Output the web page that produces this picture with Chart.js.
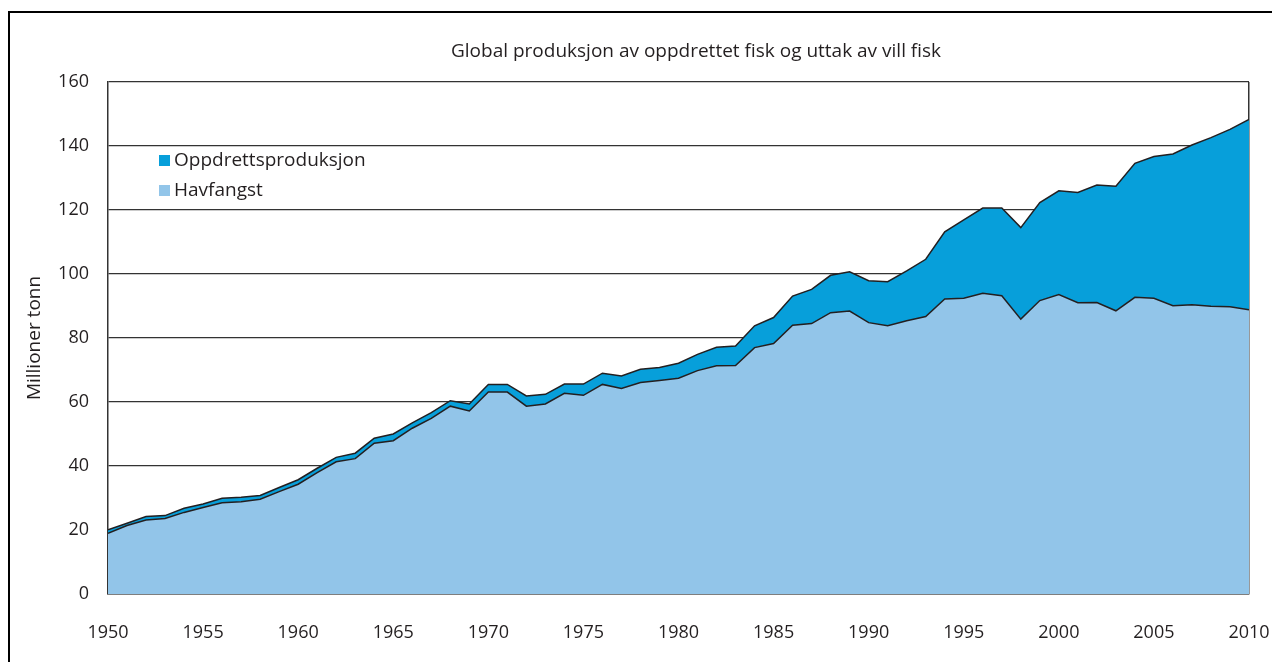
<!DOCTYPE html>
<html>
<head>
<meta charset="utf-8">
<script src="https://cdn.jsdelivr.net/npm/chart.js@4.4.1/dist/chart.umd.min.js"></script>
<style>
  html, body { margin: 0; padding: 0; background: #fff; }
  #wrap { position: relative; width: 1272px; height: 662px; overflow: hidden; }
  #frame { position: absolute; left: 8px; top: 11px; right: -10px; bottom: -10px;
           border-left: 2px solid #000; border-top: 2px solid #000; }
  #chart { position: absolute; left: 0; top: 0; }
  #title { position: absolute; left: 451px; top: 37px; font-family: "Open Sans", sans-serif;
           font-size: 19px; color: #231f20; white-space: nowrap; line-height: 26px; }
  #legend { position: absolute; left: 159px; top: 144px; font-family: "Open Sans", sans-serif;
            font-size: 19px; color: #231f20; line-height: 30px; }
  #legend .sw { display: inline-block; width: 11px; height: 11px; margin-right: 4px; vertical-align: 0px; }
</style>
</head>
<body>
<div id="wrap">
  <div id="frame"></div>
  <canvas id="chart" width="1272" height="662"></canvas>
  <div id="title"></div>
  <div id="legend"></div>
</div>
<script>
const title = "Global produksjon av oppdrettet fisk og uttak av vill fisk";
const yTitle = "Millioner tonn";

const years = [];
for (let y = 1950; y <= 2010; y++) years.push(y);

// villfangst (nederste flate)
const havfangst = [
  19.0, 21.4, 23.1, 23.6, 25.5, 27.0, 28.5, 28.8, 29.6, 32.0,
  34.3, 37.9, 41.3, 42.3, 47.1, 47.9, 51.8, 54.9, 58.7, 57.2,
  63.1, 63.1, 58.7, 59.4, 62.7, 62.1, 65.5, 64.2, 66.1, 66.7,
  67.4, 69.8, 71.3, 71.4, 77.0, 78.3, 84.0, 84.5, 87.9, 88.4,
  84.8, 83.8, 85.4, 86.7, 92.2, 92.4, 94.0, 93.2, 85.9, 91.7,
  93.6, 91.0, 91.1, 88.5, 92.7, 92.4, 90.1, 90.4, 89.9, 89.8,
  88.8
];

// totalt (øverste linje)
const totalt = [
  20.1, 22.1, 24.2, 24.5, 26.8, 28.1, 29.9, 30.2, 30.8, 33.3,
  35.7, 39.3, 42.7, 44.0, 48.7, 50.0, 53.5, 56.7, 60.4, 59.4,
  65.5, 65.5, 61.9, 62.4, 65.6, 65.6, 69.0, 68.1, 70.2, 70.8,
  72.1, 74.9, 77.1, 77.5, 83.8, 86.4, 93.1, 95.2, 99.6, 100.7,
  97.9, 97.6, 101.0, 104.6, 113.2, 116.9, 120.6, 120.6, 114.5, 122.3,
  126.0, 125.5, 127.8, 127.4, 134.6, 136.7, 137.5, 140.3, 142.6, 145.2,
  148.3
];

const oppdrett = totalt.map((t, i) => +(t - havfangst[i]).toFixed(1));

const colHav = "#92c5e9";
const colOpp = "#079fda";
const lineCol = "#231f20";
const font = "'Open Sans', sans-serif";

document.getElementById("title").textContent = title;

// legende
const legendItems = [["Oppdrettsproduksjon", colOpp], ["Havfangst", colHav]];
document.getElementById("legend").innerHTML = legendItems
  .map(([t, c]) => `<div><span class="sw" style="background:${c}"></span>${t}</div>`)
  .join("");

const ctx = document.getElementById("chart").getContext("2d");

new Chart(ctx, {
  type: "line",
  data: {
    datasets: [
      {
        label: "Havfangst",
        data: years.map((y, i) => ({ x: y, y: havfangst[i] })),
        backgroundColor: colHav,
        borderColor: lineCol,
        borderWidth: 1.5,
        fill: "origin",
        pointRadius: 0,
        tension: 0
      },
      {
        label: "Oppdrettsproduksjon",
        data: years.map((y, i) => ({ x: y, y: oppdrett[i] })),
        backgroundColor: colOpp,
        borderColor: lineCol,
        borderWidth: 1.5,
        fill: "-1",
        pointRadius: 0,
        tension: 0
      }
    ]
  },
  options: {
    responsive: false,
    animation: false,
    layout: { padding: { left: 0, right: 23, top: 82, bottom: 0 } },
    plugins: {
      legend: { display: false },
      tooltip: { enabled: false },
      title: { display: false }
    },
    scales: {
      x: {
        type: "linear",
        min: 1950,
        max: 2010,
        ticks: {
          stepSize: 5,
          color: lineCol,
          padding: 28,
          font: { family: font, size: 18 },
          callback: v => String(v),
          maxRotation: 0
        },
        grid: {
          drawTicks: false,
          color: c => (c.tick && c.tick.value === 2010 ? "#333" : "transparent"),
          lineWidth: 1.5
        },
        border: { color: "#333", width: 1.5 },
        afterFit: s => {
          s.height = 68;
          s.paddingLeft = 0;
          s.paddingRight = 0;
        }
      },
      y: {
        stacked: true,
        min: 0,
        max: 160,
        ticks: {
          stepSize: 20,
          color: lineCol,
          padding: 19,
          font: { family: font, size: 18 }
        },
        grid: { drawTicks: false, color: "#333", lineWidth: 1.2 },
        border: { color: "#333", width: 1.5 },
        title: {
          display: true,
          text: yTitle,
          color: lineCol,
          font: { family: font, size: 19 },
          padding: { top: 23, bottom: 0 }
        },
        afterFit: s => {
          s.width = 108;
          s.paddingTop = 0;
          s.paddingBottom = 0;
        }
      }
    }
  }
});
</script>
</body>
</html>
